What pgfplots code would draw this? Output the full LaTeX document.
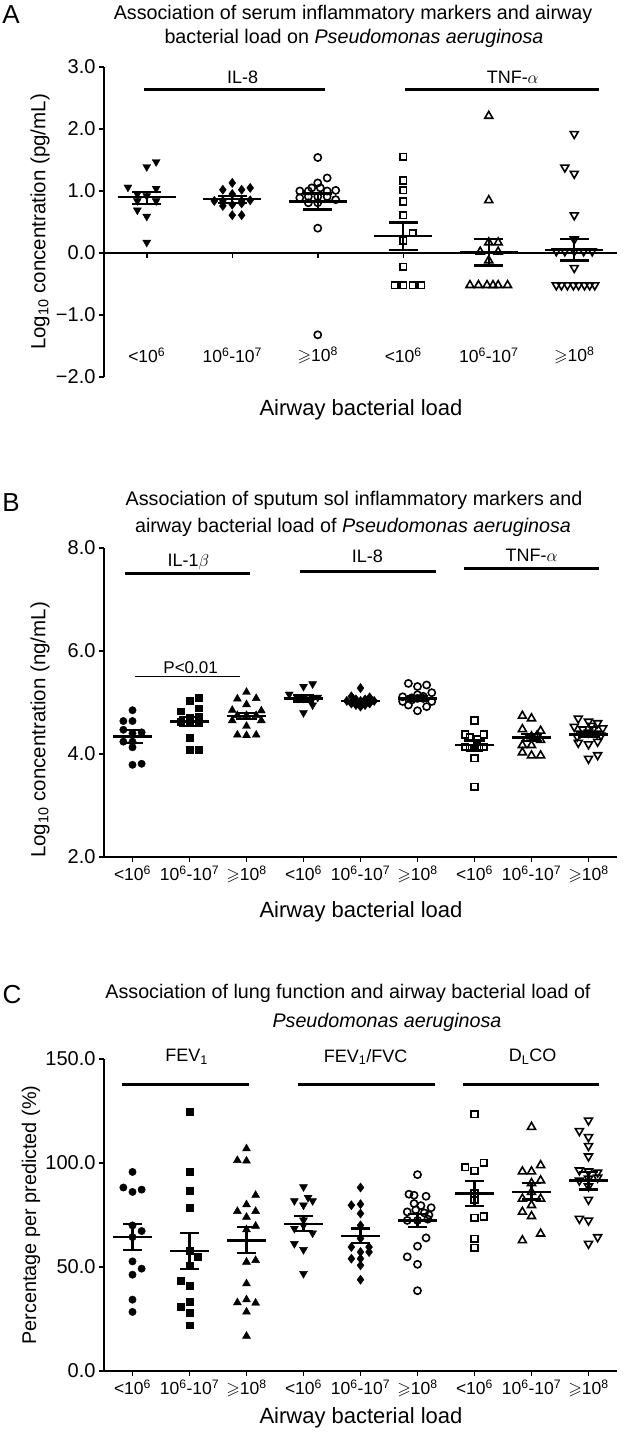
\documentclass[border=0pt]{standalone}
\usepackage{amssymb}
\usepackage{pgfplots}
\pgfplotsset{compat=1.18}
\usepackage{fontspec}
\setmainfont{Liberation Sans}
\newcommand{\fs}[1]{\fontsize{#1}{#1}\selectfont}
\newcommand{\sps}[1]{\textsuperscript{#1}}
\newcommand{\catA}{<10\sps{6}}
\newcommand{\catB}{10\sps{6}-10\sps{7}}
\newcommand{\catC}{$\geqslant$10\sps{8}}
\pgfplotsset{
  panel/.style={scale only axis, width=513pt, xmin=0.5, clip=false,
    axis line style={line width=1.5pt},
    every tick/.style={line width=1.5pt, black},
    major tick length=5pt, tick align=outside,
    yticklabel style={font=\fs{20}},
    xticklabel style={font=\fs{17.5}}},
  fc/.style={only marks, black, mark=*, mark size=3.7pt},
  fs/.style={only marks, black, mark=square*, mark size=3.4pt},
  ft/.style={only marks, black, mark=triangle*, mark size=4.6pt},
  fdt/.style={only marks, black, mark=triangle*, mark size=4.6pt, mark options={rotate=180}},
  fd/.style={only marks, black, mark=diamond*, mark size=4.6pt},
  oc/.style={only marks, black, mark=o, mark size=3.6pt, mark options={line width=1.6pt}},
  os/.style={only marks, black, mark=square, mark size=3.3pt, mark options={line width=1.6pt}},
  ot/.style={only marks, black, mark=triangle, mark size=4.6pt, mark options={line width=1.6pt}},
  odt/.style={only marks, black, mark=triangle, mark size=4.6pt, mark options={rotate=180, line width=1.6pt}},
  meanline/.style={black, line width=2.3pt, no marks},
  grpline/.style={black, line width=3pt, no marks},
}
% x, mean, low, high, mean half width, cap half width
\newcommand{\msem}[6]{%
  \pgfmathsetmacro{\xa}{#1-#5}\pgfmathsetmacro{\xb}{#1+#5}%
  \pgfmathsetmacro{\xc}{#1-#6}\pgfmathsetmacro{\xd}{#1+#6}%
  \edef\tmp{\noexpand\addplot[meanline] coordinates {(\xa,#2)(\xb,#2)};
    \noexpand\addplot[meanline] coordinates {(\xc,#4)(\xd,#4)};
    \noexpand\addplot[meanline] coordinates {(\xc,#3)(\xd,#3)};
    \noexpand\addplot[meanline] coordinates {(#1,#3)(#1,#4)};}%
  \tmp}
\begin{document}
\begin{tikzpicture}[x=1pt,y=1pt]
% ---------------- Panel A ----------------
\node[font=\fs{26}] at (11,1417) {A};
\node[font=\fs{19.7}] at (353,1418) {Association of serum inflammatory markers and airway};
\node[font=\fs{19.7}] at (354,1394) {bacterial load on \textit{Pseudomonas aeruginosa}};
\node[font=\fs{20.5}, rotate=90] at (40,1210) {Log\textsubscript{10} concentration (pg/mL)};
\node[font=\fs{22}] at (361,1022) {Airway bacterial load};
\begin{axis}[panel, at={(104pt,1055pt)}, anchor=south west, height=310pt,
  xmax=6.5, ymin=-2, ymax=3,
  axis x line*=middle, axis y line*=left, xtick align=outside,
  xtick={1,...,6}, xticklabels={},
  ytick={-2,-1,0,1,2,3}, yticklabels={−2.0,−1.0,0.0,1.0,2.0,3.0}]
\addplot[fdt] coordinates {(1,1.39)(1.11,1.47)(0.78,1.06)(1.11,1.04)(0.89,0.95)(1,0.92)(0.89,0.84)(1.11,0.84)(0.89,0.69)(1,0.59)(1,0.17)};
\addplot[fd] coordinates {(2,1.13)(1.89,1.02)(2.11,1.02)(2.21,1.05)(2,0.95)(1.79,0.84)(1.89,0.84)(2.11,0.84)(2.21,0.85)(1.89,0.76)(2,0.78)(2.11,0.80)(2,0.61)(2.11,0.61)};
\addplot[oc] coordinates {(3,1.54)(3.11,1.21)(3,1.13)(2.93,1.05)(3.03,1.05)(2.79,1.00)(2.89,1.00)(3.11,1.00)(3.21,1.01)(2.79,0.89)(2.89,0.91)(3,0.91)(3.11,0.91)(3.21,0.86)(2.89,0.81)(3,0.81)(3,0.40)(3,-1.32)};
\addplot[os] coordinates {(4,1.55)(4,1.17)(4,1.01)(4,0.83)(4,0.61)(4.11,0.32)(4,0.20)(4,-0.22)(3.9,-0.52)(4,-0.52)(4.11,-0.52)(4.21,-0.52)};
\addplot[ot] coordinates {(5,2.21)(5,0.85)(5,0.17)(5.11,0.17)(4.9,0.02)(5.11,0.02)(5,-0.12)(4.78,-0.52)(4.88,-0.52)(4.98,-0.52)(5.05,-0.52)(5.11,-0.52)(5.22,-0.52)};
\addplot[odt] coordinates {(6,1.92)(5.89,1.38)(6,1.28)(6,0.61)(6,0.22)(5.79,0.03)(5.89,0.03)(6,0.03)(6.11,0.03)(6.21,0.03)(6,-0.24)(5.79,-0.52)(5.85,-0.52)(5.92,-0.52)(5.99,-0.52)(6.05,-0.52)(6.12,-0.52)(6.18,-0.52)(6.24,-0.52)};
\msem{1}{0.90}{0.79}{0.98}{0.34}{0.17}
\msem{2}{0.87}{0.81}{0.92}{0.34}{0.17}
\msem{3}{0.83}{0.70}{0.96}{0.34}{0.17}
\msem{4}{0.27}{0.05}{0.49}{0.34}{0.17}
\msem{5}{0.01}{-0.20}{0.22}{0.34}{0.17}
\msem{6}{0.05}{-0.12}{0.22}{0.34}{0.17}
\addplot[grpline] coordinates {(0.965,2.63)(3.08,2.63)};
\addplot[grpline] coordinates {(4.02,2.63)(6.29,2.63)};
\node[font=\fs{18}] at (axis cs:2.12,2.84) {IL-8};
\node[font=\fs{18}] at (axis cs:5.28,2.84) {TNF-$\alpha$};
\node[font=\fs{17.5}] at (axis cs:1,-1.65) {\catA};
\node[font=\fs{17.5}] at (axis cs:2,-1.65) {\catB};
\node[font=\fs{17.5}] at (axis cs:3,-1.65) {\catC};
\node[font=\fs{17.5}] at (axis cs:4,-1.65) {\catA};
\node[font=\fs{17.5}] at (axis cs:5,-1.65) {\catB};
\node[font=\fs{17.5}] at (axis cs:6,-1.65) {\catC};
\end{axis}
% ---------------- Panel B ----------------
\node[font=\fs{26}] at (11,929) {B};
\node[font=\fs{19.7}] at (354,932) {Association of sputum sol inflammatory markers and};
\node[font=\fs{19.7}] at (353,905) {airway bacterial load of \textit{Pseudomonas aeruginosa}};
\node[font=\fs{20.5}, rotate=90] at (40,702) {Log\textsubscript{10} concentration (ng/mL)};
\node[font=\fs{22}] at (361,520) {Airway bacterial load};
\begin{axis}[panel, at={(104pt,575pt)}, anchor=south west, height=309pt,
  xmax=9.5, ymin=2, ymax=8,
  axis x line*=bottom, axis y line*=left,
  xtick={1,...,9}, xticklabels={\catA,\catB,\catC,\catA,\catB,\catC,\catA,\catB,\catC},
  ytick={2,4,6,8}, yticklabels={2.0,4.0,6.0,8.0}]
\addplot[fc] coordinates {(1,4.85)(0.84,4.64)(1,4.64)(0.84,4.47)(1.16,4.42)(0.84,4.24)(1,4.24)(1,4.13)(1,3.79)(1.16,3.81)(1,4.40)};
\addplot[fs] coordinates {(2,5.03)(2.16,5.09)(2.16,4.89)(1.84,4.83)(2,4.71)(2.16,4.72)(1.84,4.63)(2,4.60)(2.16,4.60)(2,4.31)(2,4.08)(2.16,4.09)};
\addplot[ft] coordinates {(3,5.20)(2.84,5.07)(3.17,5.08)(3,4.96)(2.75,4.85)(3.26,4.84)(2.84,4.75)(3,4.75)(3.17,4.75)(2.75,4.65)(3.26,4.65)(3,4.54)(2.84,4.37)(3,4.36)(3.17,4.37)};
\addplot[fdt] coordinates {(4,5.31)(4.16,5.36)(3.75,5.16)(3.9,5.08)(4,5.08)(4.16,5.08)(4.25,5.10)(4.16,4.95)(4,4.80)};
\addplot[fd] coordinates {(5,5.28)(4.84,5.12)(5.16,5.10)(4.92,5.06)(5.08,5.06)(4.76,5.03)(5,5.03)(5.24,5.03)(4.84,4.98)(5.16,4.98)(4.92,4.95)(5.08,4.95)(5,4.92)(4.84,5.00)(5.16,5.00)};
\addplot[oc] coordinates {(5.84,5.37)(6,5.31)(6.16,5.34)(6.25,5.19)(5.74,5.11)(5.9,5.09)(6,5.08)(6.1,5.08)(6.25,5.02)(5.74,5.02)(5.84,4.95)(6,4.84)(6.16,4.92)(5.9,5.05)(6.1,5.12)(6,5.15)};
\addplot[os] coordinates {(7,4.65)(6.84,4.38)(7.16,4.38)(6.92,4.32)(7.05,4.28)(6.84,4.14)(6.92,4.12)(7,4.12)(7.08,4.12)(7.16,4.14)(7,3.92)(7,3.36)};
\addplot[ot] coordinates {(7.84,4.74)(8,4.69)(7.84,4.48)(8.16,4.45)(8,4.34)(8.08,4.32)(7.92,4.30)(8.16,4.27)(7.84,4.17)(8,4.17)(7.84,4.03)(8,3.97)(8.16,3.97)(8.1,4.36)};
\addplot[odt] coordinates {(8.82,4.69)(9,4.63)(9.16,4.60)(8.75,4.53)(9.25,4.50)(8.9,4.48)(9.08,4.48)(9,4.42)(8.85,4.40)(9.15,4.40)(9.22,4.36)(8.8,4.34)(8.82,4.22)(9.16,4.24)(9,4.19)(9,3.91)(9.16,3.98)(9.05,4.55)};
\msem{1}{4.34}{4.22}{4.46}{0.34}{0.18}
\msem{2}{4.63}{4.54}{4.72}{0.34}{0.18}
\msem{3}{4.74}{4.68}{4.80}{0.34}{0.18}
\msem{4}{5.08}{5.02}{5.14}{0.34}{0.18}
\msem{5}{5.03}{5.00}{5.06}{0.34}{0.18}
\msem{6}{5.08}{5.04}{5.12}{0.34}{0.18}
\msem{7}{4.17}{4.08}{4.26}{0.34}{0.18}
\msem{8}{4.32}{4.25}{4.39}{0.34}{0.18}
\msem{9}{4.38}{4.33}{4.43}{0.34}{0.18}
\addplot[grpline] coordinates {(0.86,7.50)(3.07,7.50)};
\addplot[grpline] coordinates {(3.93,7.55)(6.32,7.55)};
\addplot[grpline] coordinates {(6.81,7.61)(9.19,7.61)};
\node[font=\fs{18}] at (axis cs:1.98,7.73) {IL-1$\beta$};
\node[font=\fs{18}] at (axis cs:5.12,7.83) {IL-8};
\node[font=\fs{18}] at (axis cs:8.0,7.86) {TNF-$\alpha$};
\addplot[black, line width=1.5pt, no marks] coordinates {(1.05,5.50)(2.89,5.50)};
\node[font=\fs{17}] at (axis cs:2.02,5.68) {P<0.01};
\end{axis}
% ---------------- Panel C ----------------
\node[font=\fs{26}] at (12,437) {C};
\node[font=\fs{19.7}] at (348,439) {Association of lung function and airway bacterial load of};
\node[font=\fs{19.7}] at (387,410) {\textit{Pseudomonas aeruginosa}};
\node[font=\fs{19.8}, rotate=90] at (31,217) {Percentage per predicted (\%)};
\node[font=\fs{22}] at (361,14) {Airway bacterial load};
\begin{axis}[panel, at={(104pt,61pt)}, anchor=south west, height=312pt,
  xmax=9.5, ymin=0, ymax=150,
  axis x line*=bottom, axis y line*=left,
  xtick={1,...,9}, xticklabels={\catA,\catB,\catC,\catA,\catB,\catC,\catA,\catB,\catC},
  ytick={0,50,100,150}, yticklabels={0.0,50.0,100.0,150.0}]
\addplot[fc] coordinates {(1,95.7)(0.84,88.2)(1,86.1)(1.16,87.2)(1,70.0)(1.16,67.3)(1,64.4)(1,52.7)(1.16,49.2)(1,46.3)(1,34.3)(1,28.4)};
\addplot[fs] coordinates {(2,124.5)(2,95.9)(2,86.5)(2,78.5)(2,57.7)(2.15,55.1)(2,50.7)(1.84,43.3)(2,40.9)(2,33.2)(1.84,30.8)(2,27.9)(2,22.0)};
\addplot[ft] coordinates {(3,106.9)(2.84,101.3)(3,101.0)(3.16,84.5)(3,80.0)(2.84,76.8)(3.16,76.8)(3,74.0)(3.16,69.7)(3,68.0)(3,52.4)(3.16,53.2)(3,42.0)(2.84,32.9)(3,34.3)(3.16,32.7)(3,28.4)(3,16.8)};
\addplot[fdt] coordinates {(4,88.5)(4.08,83.4)(3.84,81.8)(4.16,81.8)(4,79.7)(4,72.5)(4,70.0)(3.84,68.5)(4.16,66.3)(3.84,61.2)(4,58.3)(4,46.8)};
\addplot[fd] coordinates {(5,88.2)(4.84,79.7)(5,80.2)(5,75.7)(5,70.0)(5,63.7)(4.84,59.6)(5.15,59.6)(5,57.2)(5.15,57.2)(4.84,54.0)(5,54.0)(5,50.8)(5,43.9)};
\addplot[oc] coordinates {(6,94.4)(5.85,85.0)(5.94,84.5)(6.15,84.0)(5.94,80.5)(6.06,79.5)(6.24,78.5)(5.82,76.5)(5.97,77.5)(6.12,76.0)(6.2,75.0)(5.82,72.4)(6,72.4)(6.18,73.0)(6.15,64.0)(6,60.0)(5.82,54.9)(6,51.3)(6,38.6)};
\addplot[os] coordinates {(7,123.4)(7.16,100.0)(6.84,97.9)(7,96.2)(7,85.3)(7,82.4)(7.16,74.3)(7,73.7)(7,63.6)(7,59.3)};
\addplot[ot] coordinates {(8,117.3)(8.16,98.9)(7.84,95.9)(8,95.9)(8.16,91.6)(8,90.3)(8,86.0)(7.84,82.8)(8.16,82.8)(8,79.7)(7.84,76.5)(8,74.4)(8.16,66.0)(7.84,62.8)};
\addplot[odt] coordinates {(9,120.5)(8.84,115.4)(9,112.5)(9,108.2)(9,103.2)(8.84,96.5)(9,96.0)(9.16,95.5)(9.16,93.0)(9,92.5)(8.84,91.6)(9,88.8)(9,82.4)(8.84,73.2)(9,72.4)(9.16,64.4)(9,61.2)};
\msem{1}{64.4}{58.2}{70.8}{0.34}{0.16}
\msem{2}{57.7}{49.2}{66.3}{0.34}{0.16}
\msem{3}{62.8}{56.8}{69.2}{0.34}{0.16}
\msem{4}{70.8}{67.3}{74.4}{0.34}{0.16}
\msem{5}{64.9}{61.5}{68.5}{0.34}{0.16}
\msem{6}{72.4}{69.2}{75.6}{0.34}{0.16}
\msem{7}{85.3}{79.2}{91.3}{0.34}{0.16}
\msem{8}{86.0}{82.4}{90.3}{0.34}{0.16}
\msem{9}{91.6}{87.2}{95.7}{0.34}{0.16}
\addplot[grpline] coordinates {(0.82,137.8)(3.05,137.8)};
\addplot[grpline] coordinates {(3.91,137.8)(6.30,137.8)};
\addplot[grpline] coordinates {(6.79,137.8)(9.18,137.8)};
\node[font=\fs{18}] at (axis cs:1.95,151) {FEV\textsubscript{1}};
\node[font=\fs{18}] at (axis cs:5.09,151) {FEV\textsubscript{1}/FVC};
\node[font=\fs{18}] at (axis cs:8.02,151) {D\textsubscript{L}CO};
\end{axis}
\pgfresetboundingbox
\useasboundingbox (0,0) rectangle (622,1432);
\end{tikzpicture}
\end{document}
